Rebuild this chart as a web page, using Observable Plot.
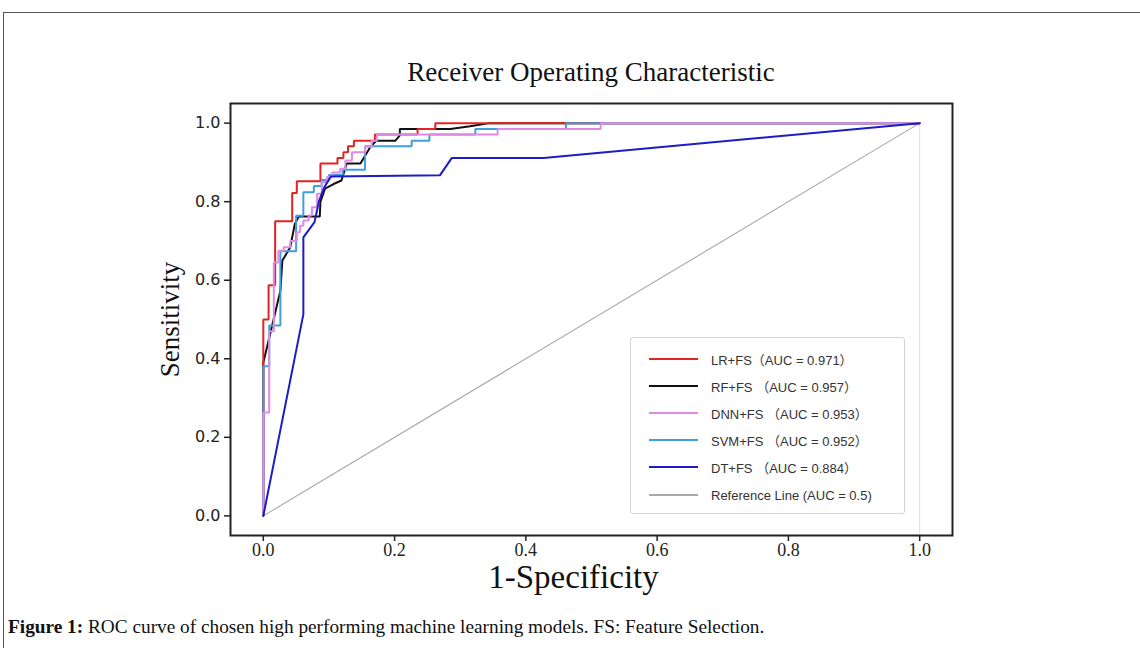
<!DOCTYPE html>
<html>
<head>
<meta charset="utf-8">
<script src="https://cdn.jsdelivr.net/npm/d3@7"></script>
<script src="https://cdn.jsdelivr.net/npm/@observablehq/plot@0.6"></script>
<style>
  html, body { margin: 0; padding: 0; background: #fff; }
  #page { position: relative; width: 1140px; height: 648px; overflow: hidden; background: #fff; }
  #border { position: absolute; left: 3px; top: 12px; width: 1200px; height: 700px;
            border-top: 1px solid #555; border-left: 1px solid #555; }
  #title { position: absolute; left: 200px; width: 782px; top: 55px; text-align: center;
           font-family: "Liberation Serif", "DejaVu Serif", serif; font-size: 27px; color: #111; line-height: 34px; }
  #chart { position: absolute; left: 0; top: 0; }
  #legend { position: absolute; left: 630px; top: 337px; width: 275px; height: 177px; box-sizing: border-box;
            border: 1px solid #d4d4d4; border-radius: 3px; background: rgba(255,255,255,0.9);
            font-family: "Liberation Sans", "Noto Sans CJK SC", sans-serif; font-size: 13px; color: #333; }
  .row { position: absolute; left: 18px; height: 20px; display: flex; align-items: center; }
  .row svg { margin-right: 13px; }
  #caption { position: absolute; left: 8px; top: 615px; font-family: "Liberation Serif", serif;
             font-size: 19.3px; color: #111; line-height: 24px; white-space: nowrap; }
</style>
</head>
<body>
<div id="page">
  <div id="border"></div>
  <div id="title">Receiver Operating Characteristic</div>
  <div id="chart"></div>
  <div id="legend"></div>
  <div id="caption"><b>Figure 1:</b> ROC curve of chosen high performing machine learning models. FS: Feature Selection.</div>
</div>
<script>
// ---- Data ----
const models = ["LR+FS", "RF+FS", "DNN+FS", "SVM+FS", "DT+FS"];
const aucs = ["0.971", "0.957", "0.953", "0.952", "0.884"];
const legendLabels = ["LR+FS（AUC = 0.971）", "RF+FS （AUC = 0.957）", "DNN+FS （AUC = 0.953）",
                      "SVM+FS （AUC = 0.952）", "DT+FS （AUC = 0.884）", "Reference Line (AUC = 0.5)"];
const colors = ["#e3231f", "#111111", "#e08ae3", "#3f9de0", "#1c1cc8"];
const refColor = "#a8a8a8";

const lrFpr = [0,0,0.008,0.008,0.018,0.018,0.044,0.044,0.051,0.051,0.087,0.087,0.113,0.113,0.122,0.122,0.129,0.129,0.138,0.138,0.17,0.17,0.235,0.235,0.262,0.262,1];
const lrTpr = [0,0.5,0.5,0.587,0.587,0.75,0.75,0.822,0.822,0.852,0.852,0.897,0.897,0.911,0.911,0.926,0.926,0.941,0.941,0.955,0.955,0.971,0.971,0.985,0.985,1,1];

const rfFpr = [0,0,0.026,0.029,0.041,0.048,0.054,0.086,0.087,0.094,0.107,0.119,0.127,0.148,0.163,0.172,0.201,0.208,0.208,0.285,0.315,0.345,1];
const rfTpr = [0,0.39,0.573,0.65,0.684,0.743,0.762,0.762,0.80,0.833,0.845,0.854,0.897,0.897,0.939,0.955,0.955,0.969,0.985,0.985,0.992,1,1];

const dnnFpr = [0,0,0.009,0.009,0.016,0.016,0.023,0.023,0.031,0.031,0.041,0.041,0.051,0.051,0.056,0.056,0.061,0.061,0.069,0.069,0.074,0.074,0.082,0.082,0.089,0.089,0.097,0.097,0.105,0.105,0.117,0.117,0.125,0.125,0.135,0.135,0.155,0.155,0.165,0.165,0.173,0.173,0.357,0.357,0.514,0.514,1];
const dnnTpr = [0,0.263,0.263,0.47,0.47,0.645,0.645,0.675,0.675,0.684,0.684,0.70,0.70,0.722,0.722,0.739,0.739,0.752,0.752,0.765,0.765,0.786,0.786,0.82,0.82,0.85,0.85,0.863,0.863,0.874,0.874,0.884,0.884,0.905,0.905,0.926,0.926,0.94,0.94,0.955,0.955,0.971,0.971,0.985,0.985,1,1];

const svmFpr = [0,0,0.009,0.009,0.026,0.026,0.05,0.05,0.061,0.061,0.077,0.077,0.089,0.089,0.10,0.10,0.121,0.121,0.155,0.155,0.226,0.226,0.253,0.253,0.323,0.323,0.461,0.461,1];
const svmTpr = [0,0.381,0.381,0.485,0.485,0.674,0.674,0.764,0.764,0.824,0.824,0.84,0.84,0.855,0.855,0.868,0.868,0.881,0.881,0.941,0.941,0.955,0.955,0.971,0.971,0.985,0.985,1,1];

const dtFpr = [0,0.061,0.061,0.078,0.085,0.093,0.103,0.269,0.287,0.427,1];
const dtTpr = [0,0.513,0.709,0.748,0.803,0.837,0.864,0.867,0.911,0.911,1];

const refFpr = [0, 1];
const refTpr = [0, 1];
const xTicks = [0, 0.2, 0.4, 0.6, 0.8, 1.0];
const yTicks = [0, 0.2, 0.4, 0.6, 0.8, 1.0];
const domain = [-0.05, 1.05];

// ---- Build table (drawing order: RF, LR, SVM, DNN, DT) ----
const seriesArrays = {
  "LR+FS": [lrFpr, lrTpr], "RF+FS": [rfFpr, rfTpr], "DNN+FS": [dnnFpr, dnnTpr],
  "SVM+FS": [svmFpr, svmTpr], "DT+FS": [dtFpr, dtTpr]
};
const drawOrder = ["RF+FS", "LR+FS", "SVM+FS", "DNN+FS", "DT+FS"];
const rows = drawOrder.flatMap(m => {
  const [fx, ty] = seriesArrays[m];
  return fx.map((v, i) => ({model: m, fpr: v, tpr: ty[i]}));
});
const refRows = refFpr.map((v, i) => ({fpr: v, tpr: refTpr[i]}));

const chart = Plot.plot({
  width: 1140,
  height: 600,
  marginLeft: 230,
  marginRight: 188,
  marginTop: 103,
  marginBottom: 65,
  style: {background: "transparent", overflow: "visible"},
  x: {domain, label: null},
  y: {domain, label: null},
  color: {domain: models, range: colors},
  marks: [
    Plot.ruleX([1], {y1: domain[0], y2: 1, stroke: "#dedede", strokeWidth: 1}),
    Plot.line(refRows, {x: "fpr", y: "tpr", stroke: refColor, strokeWidth: 1.1}),
    Plot.line(rows, {x: "fpr", y: "tpr", z: "model", stroke: "model", strokeWidth: 2, strokeLinejoin: "miter"}),
    Plot.frame({stroke: "#222", strokeWidth: 2}),
    Plot.axisX({ticks: xTicks, tickFormat: d => d.toFixed(1), tickSize: 6, tickPadding: 2,
                fontSize: 18, fontFamily: "Liberation Serif", stroke: "#222", strokeWidth: 1.5, color: "#222", label: null}),
    Plot.axisY({ticks: yTicks, tickFormat: d => d.toFixed(1), tickSize: 6, tickPadding: 4,
                fontSize: 16, fontFamily: "DejaVu Sans", stroke: "#222", strokeWidth: 1.5, color: "#222", label: null}),
    Plot.text(["1-Specificity"], {frameAnchor: "bottom", dy: 42, dx: -18, fontSize: 33,
                fontFamily: "Liberation Serif", fill: "#111", lineAnchor: "middle", textAnchor: "middle"}),
    Plot.text(["Sensitivity"], {frameAnchor: "left", dx: -60, rotate: -90, fontSize: 27,
                fontFamily: "Liberation Serif", fill: "#111", lineAnchor: "middle", textAnchor: "middle"})
  ]
});
document.getElementById("chart").appendChild(chart);

// ---- Legend overlay ----
const legend = document.getElementById("legend");
const legendColors = [...colors, refColor];
const rowTops = [11, 38, 65, 92, 119, 147];
legendLabels.forEach((lab, i) => {
  const r = document.createElement("div");
  r.className = "row";
  r.style.top = rowTops[i] + "px";
  r.innerHTML = `<svg width="49" height="6"><line x1="0" x2="49" y1="3" y2="3" stroke="${legendColors[i]}" stroke-width="2"/></svg><span>${lab}</span>`;
  legend.appendChild(r);
});
</script>
</body>
</html>
